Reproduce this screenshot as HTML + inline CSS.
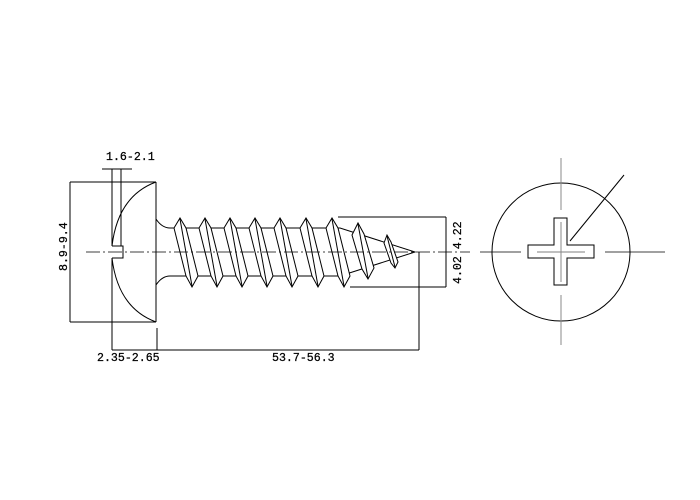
<!DOCTYPE html>
<html><head><style>body{margin:0;background:#fff}svg{display:block}</style></head>
<body>
<svg width="700" height="500" viewBox="0 0 700 500" xmlns="http://www.w3.org/2000/svg" font-family="Liberation Mono, monospace" font-size="11.6">
<rect width="700" height="500" fill="#fff"/>
<g fill="none" stroke="#000" stroke-width="1">
<line x1="70" y1="182" x2="156" y2="182"/>
<line x1="70" y1="322" x2="156" y2="322"/>
<line x1="70" y1="182" x2="70" y2="322"/>
<line x1="156" y1="182" x2="156" y2="322"/>
<path d="M156,182 Q118,196 112,246"/>
<path d="M112,258 Q118,308 156,322"/>
<path d="M112,246 H123 V258 H112"/>
<line x1="102" y1="169" x2="132" y2="169"/>
<line x1="112" y1="169" x2="112" y2="246"/>
<line x1="121" y1="169" x2="121" y2="246"/>
<line x1="112" y1="258" x2="112" y2="350"/>
<line x1="157" y1="328" x2="157" y2="350"/>
<line x1="112" y1="350" x2="419" y2="350"/>
<line x1="419" y1="252" x2="419" y2="350"/>
<line x1="338" y1="217" x2="446" y2="217"/>
<line x1="350" y1="287" x2="446" y2="287"/>
<line x1="446" y1="217" x2="446" y2="287"/>
<path d="M156,219 Q162,228 170,228 H340 L415,252 L340,276 H170 Q162,276 156,285"/>
</g>
<g fill="#fff" stroke="#000" stroke-width="1">
<g id="t">
<polygon points="174,228 180,218 186,228 198,276 192,287 186,276"/>
<line x1="180" y1="219" x2="192" y2="286"/>
</g>
<use href="#t" x="25"/><use href="#t" x="50"/><use href="#t" x="75"/><use href="#t" x="100"/><use href="#t" x="126"/><use href="#t" x="152"/>
<polygon points="352,235 358,223 364,234 374,268 368,279 362,269"/>
<line x1="358" y1="224" x2="368" y2="278"/>
<polygon points="384,243 387,235 391,242 398,262 395,268 391,263"/>
<line x1="387" y1="236" x2="395" y2="267"/>
</g>
<line x1="86" y1="252" x2="470" y2="252" stroke="#000" stroke-width="0.7" stroke-dasharray="14,3,2,3"/>
<g fill="none" stroke="#000">
<circle cx="561" cy="252" r="69"/>
<path d="M554,218 H567 V245 H594 V258 H567 V285 H554 V258 H528 V245 H554 Z" fill="#fff"/>
<line x1="570" y1="241" x2="624" y2="175"/>
<line x1="480" y1="252" x2="521" y2="252" stroke-width="0.8"/>
<line x1="537" y1="252" x2="585" y2="252" stroke-width="0.6"/>
<line x1="605" y1="252" x2="665" y2="252" stroke-width="0.8"/>
</g>
<g stroke="#888" stroke-width="1">
<line x1="561" y1="158" x2="561" y2="210"/>
<line x1="561" y1="222" x2="561" y2="282"/>
<line x1="561" y1="295" x2="561" y2="345"/>
</g>
<g fill="#000" stroke="#000" stroke-width="0.25">
<text x="106" y="160">1.6-2.1</text>
<text x="97" y="361">2.35-2.65</text>
<text x="272" y="361">53.7-56.3</text>
<text transform="translate(67,271) rotate(-90)">8.9-9.4</text>
<text transform="translate(461,284) rotate(-90)">4.02 4.22</text>
</g>
</svg>
</body></html>
